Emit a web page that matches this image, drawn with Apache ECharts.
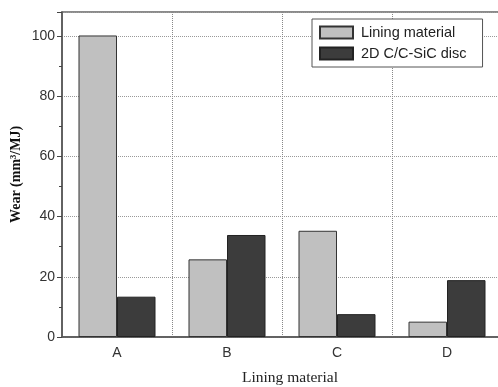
<!DOCTYPE html>
<html><head><meta charset="utf-8">
<script src="https://cdn.jsdelivr.net/npm/echarts@6/dist/echarts.min.js"></script>
<style>html,body{margin:0;padding:0;background:#fff}#c{width:498px;height:387px}</style>
</head><body><div id="c"></div>
<script>
const categories = ['A', 'B', 'C', 'D'];
const liningMaterial = [100.2, 25.8, 35.3, 5.1];
const cscDisc = [13.4, 33.9, 7.6, 18.9];
const seriesNames = ['Lining material', '2D C/C-SiC disc'];

const chart = echarts.init(document.getElementById('c'), null, {renderer: 'canvas'});
chart.setOption({
  animation: false,
  backgroundColor: '#fff',
  grid: {left: 62, top: 12, width: 440, height: 325, show: true, borderColor: '#666', borderWidth: 1.5,
    containLabel: false, outerBoundsMode: 'none'},
  legend: {
    left: 312, top: 19, orient: 'vertical',
    padding: [6, 16, 6, 7],
    icon: 'rect',
    itemWidth: 33, itemHeight: 12, itemGap: 6,
    borderColor: '#555', borderWidth: 1, backgroundColor: '#fff',
    textStyle: {fontFamily: 'Arial, Liberation Sans', fontSize: 14.5, color: '#222', padding: [0, 0, 0, 3]},
    data: seriesNames
  },
  xAxis: {
    type: 'category', data: categories,
    name: 'Lining material', nameLocation: 'middle', nameGap: 33, nameMoveOverlap: false,
    nameTextStyle: {fontFamily: 'Liberation Serif, Times New Roman', fontSize: 15.5, color: '#222', padding: [0, 0, 0, 16]},
    axisLine: {lineStyle: {color: '#555', width: 1.5}},
    axisTick: {alignWithLabel: true, length: 5, lineStyle: {color: '#444'}},
    axisLabel: {fontFamily: 'Arial, Liberation Sans', fontSize: 14, color: '#333', margin: 9},
    splitLine: {show: true, lineStyle: {type: 'dotted', color: '#888', width: 1}}
  },
  yAxis: {
    type: 'value', min: 0, max: 108, interval: 20,
    name: 'Wear (mm³/MJ)', nameLocation: 'middle', nameGap: 39, nameMoveOverlap: false,
    nameTextStyle: {fontFamily: 'Liberation Serif, Times New Roman', fontSize: 14, fontWeight: 'bold', color: '#111'},
    axisLine: {show: true, lineStyle: {color: '#555', width: 1.5}},
    axisTick: {show: true, length: 5, lineStyle: {color: '#444'}},
    minorTick: {show: true, splitNumber: 2, length: 3, lineStyle: {color: '#444'}},
    axisLabel: {fontFamily: 'Arial, Liberation Sans', fontSize: 14, color: '#333', margin: 7,
      showMaxLabel: false},
    splitLine: {show: true, lineStyle: {type: 'dotted', color: '#999', width: 1}}
  },
  series: [
    {name: seriesNames[0], type: 'bar', data: liningMaterial, barGap: '0%', barCategoryGap: '30%',
      itemStyle: {color: '#c0c0c0', borderColor: '#333', borderWidth: 1}},
    {name: seriesNames[1], type: 'bar', data: cscDisc,
      itemStyle: {color: '#3c3c3c', borderColor: '#222', borderWidth: 1}}
  ]
});
</script></body></html>
